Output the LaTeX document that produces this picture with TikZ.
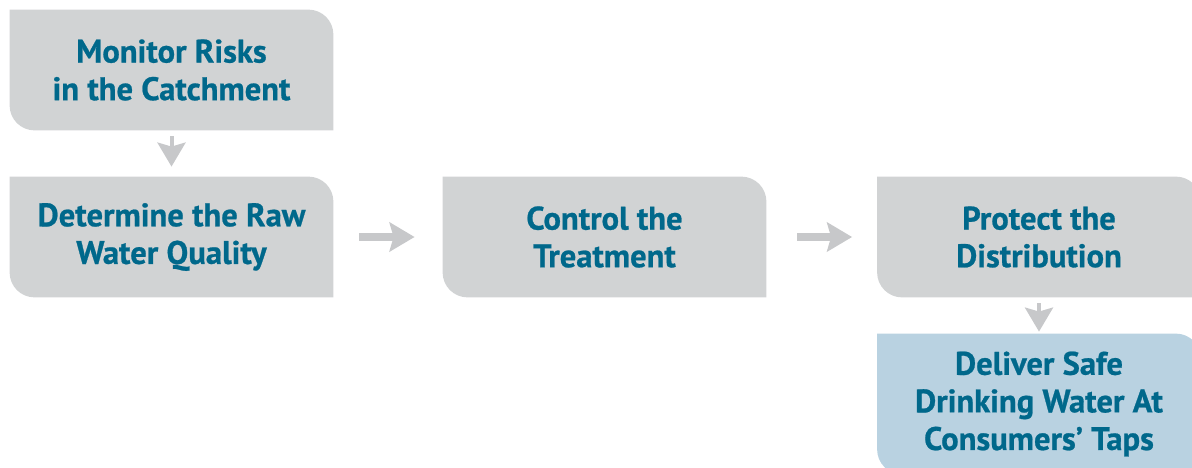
\documentclass[tikz,border=0pt]{standalone}
\usepackage{fontspec}
\setmainfont{PT Sans}
\newfontfamily\stagefont{PT Sans Bold}[FakeBold=0.7]
\usetikzlibrary{arrows.meta,backgrounds}
\definecolor{boxgray}{RGB}{209,211,212}
\definecolor{boxblue}{RGB}{185,210,225}
\definecolor{arrowgray}{RGB}{199,200,202}
\definecolor{textblue}{RGB}{0,104,139}
\begin{document}
\begin{tikzpicture}[x=0.5pt, y=0.5pt,
    stage/.style={minimum width=161.5pt, minimum height=60pt, inner sep=0pt, align=center, text=textblue,
        font=\stagefont\fontsize{16.3}{18.8}\selectfont},
    flow/.style={arrowgray, line width=4pt, -{Stealth[length=12.5pt, width=14.5pt, inset=2pt]}},
    drop/.style={arrowgray, line width=2pt, -{Stealth[length=12pt, width=14pt, inset=2pt]}}]
    \useasboundingbox (0,0) rectangle (1192,467);

    %Nodes
    \node[stage] at (171.5, 397) (monitor) {Monitor Risks\\in the Catchment};
    \node[stage] at (171.5, 230) (raw) {Determine the Raw\\Water Quality};
    \node[stage] at (604.5, 230) (treat) {Control the\\Treatment};
    \node[stage] at (1039, 230) (protect) {Protect the\\Distribution};
    \node[stage, minimum height=70pt] at (1039, 63) (deliver) {Deliver Safe\\Drinking Water At\\Consumers’ Taps};

    %Boxes
    \begin{scope}[on background layer]
    \foreach \n/\c in {monitor/boxgray, raw/boxgray, treat/boxgray, protect/boxgray, deliver/boxblue}
        \fill[\c] (\n.north west) -- ([xshift=-12.5pt]\n.north east) arc[start angle=90, end angle=0, radius=12.5pt]
            -- (\n.south east) -- ([xshift=12.5pt]\n.south west) arc[start angle=270, end angle=180, radius=12.5pt] -- cycle;
    \end{scope}

    %Lines
    \draw[drop, shorten <=3pt, shorten >=5pt] (monitor) -- (raw);
    \draw[flow, shorten <=13pt, shorten >=14pt] (raw) -- (treat);
    \draw[flow, shorten <=15.5pt, shorten >=12.5pt] (treat) -- (protect);
    \draw[drop, shorten <=3pt, shorten >=1pt] (protect) -- (deliver);

\end{tikzpicture}
\end{document}
